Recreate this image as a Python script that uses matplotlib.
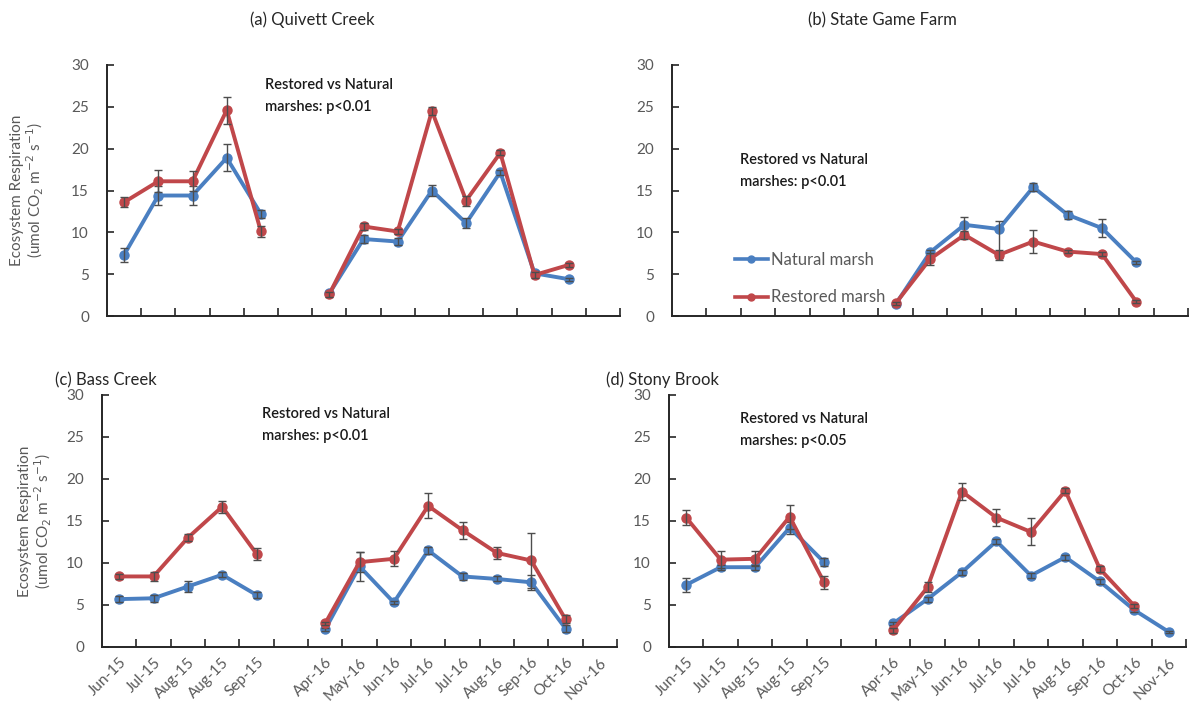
import numpy as np
import matplotlib
matplotlib.use("Agg")
import matplotlib.pyplot as plt

nan = np.nan
categories = ['Jun-15', 'Jul-15', 'Aug-15', 'Aug-15', 'Sep-15', '',
              'Apr-16', 'May-16', 'Jun-16', 'Jul-16', 'Jul-16', 'Aug-16',
              'Sep-16', 'Oct-16', 'Nov-16']

# (a) Quivett Creek
a_nat = [7.3, 14.4, 14.4, 18.9, 12.2, nan, 2.7, 9.2, 8.9, 15.0, 11.1, 17.2, 5.1, 4.4, nan]
a_nat_err = [0.8, 1.1, 1.1, 1.6, 0.5, nan, 0.3, 0.5, 0.4, 0.6, 0.6, 0.3, 0.3, 0.2, nan]
a_res = [13.6, 16.1, 16.1, 24.6, 10.1, nan, 2.6, 10.7, 10.1, 24.5, 13.8, 19.5, 4.9, 6.1, nan]
a_res_err = [0.6, 1.3, 1.2, 1.6, 0.7, nan, 0.3, 0.4, 0.3, 0.5, 0.6, 0.3, 0.4, 0.2, nan]

# (b) State Game Farm
b_nat = [nan, nan, nan, nan, nan, nan, 1.4, 7.6, 10.9, 10.4, 15.4, 12.1, 10.5, 6.4, nan]
b_nat_err = [nan, nan, nan, nan, nan, nan, 0.2, 0.3, 0.9, 0.9, 0.5, 0.5, 1.1, 0.2, nan]
b_nat_err_lo = [nan, nan, nan, nan, nan, nan, 0.2, 0.3, 0.9, 3.5, 0.5, 0.5, 1.1, 0.2, nan]
b_res = [nan, nan, nan, nan, nan, nan, 1.5, 6.8, 9.7, 7.3, 8.9, 7.7, 7.4, 1.7, nan]
b_res_err = [nan, nan, nan, nan, nan, nan, 0.2, 0.7, 0.5, 0.6, 1.4, 0.2, 0.2, 0.2, nan]

# (c) Bass Creek
c_nat = [5.7, 5.8, 7.2, 8.6, 6.2, nan, 2.1, 9.6, 5.3, 11.5, 8.4, 8.1, 7.7, 2.2, nan]
c_nat_err = [0.4, 0.4, 0.7, 0.3, 0.4, nan, 0.2, 1.7, 0.2, 0.4, 0.4, 0.3, 0.9, 0.4, nan]
c_res = [8.4, 8.4, 13.0, 16.7, 11.1, nan, 2.8, 10.1, 10.5, 16.8, 13.9, 11.2, 10.3, 3.3, nan]
c_res_err = [0.3, 0.5, 0.4, 0.7, 0.7, nan, 0.2, 1.2, 0.9, 1.5, 1.0, 0.7, 3.3, 0.5, nan]

# (d) Stony Brook
d_nat = [7.4, 9.5, 9.5, 14.2, 10.1, nan, 2.8, 5.7, 8.9, 12.6, 8.5, 10.7, 7.8, 4.4, 1.8]
d_nat_err = [0.8, 0.3, 0.3, 0.7, 0.5, nan, 0.2, 0.3, 0.3, 0.3, 0.3, 0.3, 0.3, 0.2, 0.1]
d_res = [15.4, 10.4, 10.5, 15.5, 7.7, nan, 2.0, 7.1, 18.5, 15.4, 13.7, 18.6, 9.3, 4.9, nan]
d_res_err = [0.9, 1.0, 0.9, 1.4, 0.8, nan, 0.3, 0.6, 1.0, 1.0, 1.6, 0.3, 0.4, 0.2, nan]

titles = ['(a) Quivett Creek', '(b) State Game Farm', '(c) Bass Creek', '(d) Stony Brook']
stats = ['Restored vs Natural\nmarshes: p<0.01', 'Restored vs Natural\nmarshes: p<0.01',
         'Restored vs Natural\nmarshes: p<0.01', 'Restored vs Natural\nmarshes: p<0.05']
series_names = ['Natural marsh', 'Restored marsh']

BLUE = '#4a7fc1'
RED = '#c0474a'
GRAY = '#595959'
FONT = ['Lato', 'DejaVu Sans']
plt.rcParams['font.family'] = FONT

W, H = 1190, 709
fig = plt.figure(figsize=(W / 100, H / 100), dpi=100)

def fx(px):
    return px / W

def fy(py):
    return 1 - py / H

# axes rectangles in pixels: left, top, right, bottom
rects = [(107, 65, 620, 316), (672, 65, 1188, 316),
         (102, 395, 617, 647), (669, 395, 1186, 647)]

panels = [
    (a_nat, a_nat_err, None, a_res, a_res_err),
    (b_nat, b_nat_err, b_nat_err_lo, b_res, b_res_err),
    (c_nat, c_nat_err, None, c_res, c_res_err),
    (d_nat, d_nat_err, None, d_res, d_res_err),
]

x = np.arange(len(categories))
axes = []
for i, (rect, pdata) in enumerate(zip(rects, panels)):
    l, t, r, b = rect
    ax = fig.add_axes([fx(l), fy(b), fx(r - l), (b - t) / H])
    axes.append(ax)
    nat, nat_err, nat_err_lo, res, res_err = pdata
    nat = np.array(nat, float)
    res = np.array(res, float)
    ne = np.array(nat_err, float)
    nel = np.array(nat_err_lo, float) if nat_err_lo is not None else ne
    re_ = np.array(res_err, float)
    for yv, yl, yh, col, z in [(nat, nel, ne, BLUE, 3), (res, re_, re_, RED, 4)]:
        for seg in ([0, 5], [6, 15]):
            s = slice(*seg)
            ax.plot(x[s], yv[s], color=col, lw=2.8, marker='o', ms=6.5, zorder=z,
                    solid_capstyle='round')
        ax.errorbar(x, yv, yerr=[yl, yh], fmt='none', ecolor='#4d4d4d',
                    elinewidth=1.0, capsize=3, capthick=1.0, zorder=z + 0.5)
    ax.set_xlim(-0.5, 14.5)
    ax.set_ylim(0, 30)
    ax.set_yticks(np.arange(0, 31, 5))
    for sp in ['top', 'right']:
        ax.spines[sp].set_visible(False)
    for sp in ['left', 'bottom']:
        ax.spines[sp].set_color('#262626')
        ax.spines[sp].set_linewidth(1.4)
    ax.tick_params(axis='y', direction='in', length=5, width=1.2, color='#262626',
                   labelsize=11, labelcolor=GRAY, pad=13)
    ax.set_xticks(np.arange(0.5, 15, 1.0), minor=True)
    ax.tick_params(axis='x', which='minor', direction='in', length=6, width=1.2,
                   color='#262626')
    ax.set_xticks(x)
    if i >= 2:
        ax.set_xticklabels(categories, rotation=45, ha='right',
                           rotation_mode='anchor', fontsize=11, color=GRAY)
        ax.tick_params(axis='x', which='major', length=0, pad=6)
    else:
        ax.set_xticklabels([])
        ax.tick_params(axis='x', which='major', length=0)

# titles
fig.text(fx(312), fy(20), titles[0], ha='center', va='center', fontsize=12, color='#262626')
fig.text(fx(882), fy(20), titles[1], ha='center', va='center', fontsize=12, color='#262626')
fig.text(fx(106), fy(380), titles[2], ha='center', va='center', fontsize=12, color='#262626')
fig.text(fx(662), fy(380), titles[3], ha='center', va='center', fontsize=12, color='#262626')

# stats text
stat_pos = [(265, 78), (740, 153), (262, 407), (740, 412)]
for (px, py), s in zip(stat_pos, stats):
    fig.text(fx(px), fy(py), s, ha='left', va='top', fontsize=10.5,
             color='#1a1a1a', linespacing=1.75, fontweight='semibold')

# y labels
ylab = 'Ecosystem Respiration\n(umol CO$_2$ m$^{-2}$ s$^{-1}$)'
fig.text(fx(28), fy(190), ylab, rotation=90, ha='center', va='center',
         fontsize=11, color=GRAY, multialignment='center', linespacing=1.1)
fig.text(fx(36), fy(521), ylab, rotation=90, ha='center', va='center',
         fontsize=11, color=GRAY, multialignment='center', linespacing=1.1)

# legend (panel b)
axb = axes[1]
hn, = axb.plot([], [], color=BLUE, lw=2.6, marker='o', ms=5)
hr, = axb.plot([], [], color=RED, lw=2.6, marker='o', ms=5)
leg = axb.legend([hn, hr], series_names, loc='upper left',
                 bbox_to_anchor=((728 - 672) / 516, (316 - 245) / 251),
                 frameon=False, fontsize=12, labelspacing=1.3,
                 handlelength=2.0, handletextpad=0.2, borderaxespad=0)
for t in leg.get_texts():
    t.set_color(GRAY)

fig.savefig('out.png', dpi=100)
